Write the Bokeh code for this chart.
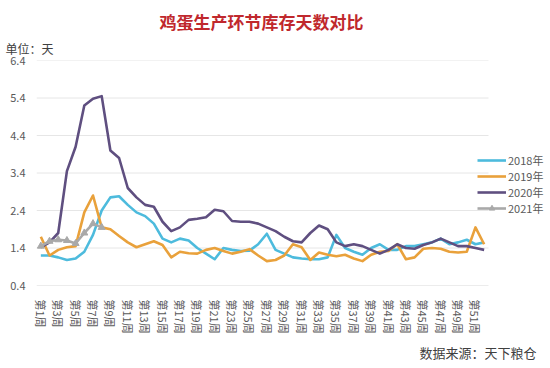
from bokeh.plotting import figure
from bokeh.models import (Range1d, FixedTicker, Legend, LegendItem, Title,
                          PrintfTickFormatter)
from bokeh.embed import file_html
from bokeh.resources import INLINE

FONT = "Noto Sans CJK SC"

title_text = "鸡蛋生产环节库存天数对比"
unit_text = "单位：天"
source_text = "数据来源：天下粮仓"

weeks = list(range(1, 53))
tick_weeks = list(range(1, 52, 2))
tick_labels = ["第%d周" % w for w in tick_weeks]
y_ticks = [0.4, 1.4, 2.4, 3.4, 4.4, 5.4, 6.4]

series_names = ["2018年", "2019年", "2020年", "2021年"]

v2018 = [1.2, 1.2, 1.15, 1.08, 1.12, 1.3, 1.75, 2.4, 2.75, 2.78,
         2.55, 2.35, 2.25, 2.05, 1.65, 1.55, 1.65, 1.6, 1.4, 1.25,
         1.1, 1.4, 1.35, 1.32, 1.33, 1.5, 1.78, 1.35, 1.25, 1.15,
         1.12, 1.1, 1.1, 1.15, 1.75, 1.4, 1.3, 1.22, 1.4, 1.5,
         1.35, 1.35, 1.45, 1.45, 1.5, 1.55, 1.65, 1.5, 1.55, 1.62,
         1.5, 1.55]
v2019 = [1.7, 1.2, 1.35, 1.42, 1.45, 2.35, 2.8, 1.95, 1.9, 1.72,
         1.55, 1.42, 1.5, 1.58, 1.48, 1.15, 1.3, 1.26, 1.25, 1.35,
         1.4, 1.32, 1.25, 1.3, 1.37, 1.2, 1.05, 1.08, 1.2, 1.5,
         1.42, 1.08, 1.28, 1.22, 1.18, 1.22, 1.12, 1.05, 1.22, 1.3,
         1.32, 1.5, 1.1, 1.15, 1.38, 1.4, 1.38, 1.3, 1.28, 1.3,
         1.95, 1.5]
v2020 = [1.42, 1.55, 1.8, 3.45, 4.1, 5.2, 5.38, 5.45, 4.0, 3.8,
         3.0, 2.75, 2.55, 2.5, 2.1, 1.85, 1.95, 2.15, 2.18, 2.22,
         2.42, 2.38, 2.12, 2.1, 2.1, 2.05, 1.95, 1.85, 1.7, 1.58,
         1.55, 1.8, 2.0, 1.9, 1.55, 1.45, 1.5, 1.45, 1.35, 1.25,
         1.35, 1.5, 1.4, 1.38, 1.48, 1.55, 1.65, 1.55, 1.45, 1.45,
         1.4, 1.35]
v2021 = [1.45, 1.58, 1.62, 1.6, 1.52, 1.8, 2.05, 1.95]

colors = ["#4DBBDD", "#E9A13B", "#5F4F80", "#A9A9A9"]

X0, X1 = 0.5, 52.5          # category extent of the week axis
PX_PER_WEEK = 452 / 52.0
FRAME_W = 514
X_END = X0 + FRAME_W / PX_PER_WEEK   # extra room on the right for the legend

p = figure(width=550, height=368, output_backend="svg", toolbar_location=None,
           x_range=Range1d(X0, X_END), y_range=Range1d(0.4, 6.4),
           min_border_left=36, min_border_right=0, min_border_top=60,
           min_border_bottom=83, frame_width=FRAME_W, frame_height=225)
p.outline_line_color = None
p.background_fill_color = "white"
p.border_fill_color = "white"

# horizontal grid lines, only over the week extent
p.segment(x0=[X0] * len(y_ticks), x1=[X1] * len(y_ticks), y0=y_ticks, y1=y_ticks,
          line_color=["#D9D9D9"] + ["#E6E6E6"] * (len(y_ticks) - 1), line_width=1)

r18 = p.line(weeks, v2018, line_color=colors[0], line_width=2.6, line_join="round")
r19 = p.line(weeks, v2019, line_color=colors[1], line_width=2.6, line_join="round")
r20 = p.line(weeks, v2020, line_color=colors[2], line_width=2.6, line_join="round")
w21 = weeks[:len(v2021)]
r21 = p.line(w21, v2021, line_color=colors[3], line_width=2.6, line_join="round")
r21m = p.scatter(w21, v2021, marker="triangle", size=7, fill_color=colors[3],
                 line_color=colors[3])

# axes
p.xaxis.ticker = FixedTicker(ticks=tick_weeks)
p.xaxis.major_label_overrides = {w: t for w, t in zip(tick_weeks, tick_labels)}
p.xaxis.major_label_orientation = "vertical"
p.xaxis.major_label_text_font = FONT
p.xaxis.major_label_text_font_size = "11px"
p.xaxis.major_label_text_color = "#595959"
p.xaxis.major_tick_line_color = None
p.xaxis.minor_tick_line_color = None
p.xaxis.axis_line_color = None
p.xaxis.major_label_standoff = 8

p.yaxis.ticker = FixedTicker(ticks=y_ticks)
p.yaxis.formatter = PrintfTickFormatter(format="%.1f")
p.yaxis.major_label_text_font = FONT
p.yaxis.major_label_text_font_size = "11px"
p.yaxis.major_label_text_color = "#595959"
p.yaxis.major_tick_line_color = None
p.yaxis.minor_tick_line_color = None
p.yaxis.axis_line_color = None
p.yaxis.major_label_standoff = 5

p.xgrid.grid_line_color = None
p.ygrid.grid_line_color = None

legend = Legend(items=[
    LegendItem(label=series_names[0], renderers=[r18]),
    LegendItem(label=series_names[1], renderers=[r19]),
    LegendItem(label=series_names[2], renderers=[r20]),
    LegendItem(label=series_names[3], renderers=[r21, r21m]),
], location=(441, 69))
legend.background_fill_alpha = 0
legend.border_line_color = None
legend.padding = 0
legend.margin = 0
legend.spacing = 0
legend.label_height = 14
legend.glyph_height = 14
legend.glyph_width = 29
legend.label_standoff = 2
legend.label_text_font = FONT
legend.label_text_font_size = "11px"
legend.label_text_color = "#595959"
p.add_layout(legend, "center")

p.add_layout(Title(text=unit_text, align="left", offset=-31, standoff=8,
                   text_font=FONT, text_font_size="12px",
                   text_font_style="normal", text_color="#404040"), "above")
p.add_layout(Title(text=title_text, align="left", offset=123, standoff=0,
                   text_font=FONT, text_font_size="17px",
                   text_font_style="bold", text_color="#C0282D"), "above")
p.add_layout(Title(text=source_text, align="right", offset=14, standoff=9,
                   text_font=FONT, text_font_size="13px",
                   text_font_style="normal", text_color="#404040"), "below")

open("out.html", "w").write(file_html(p, INLINE))
